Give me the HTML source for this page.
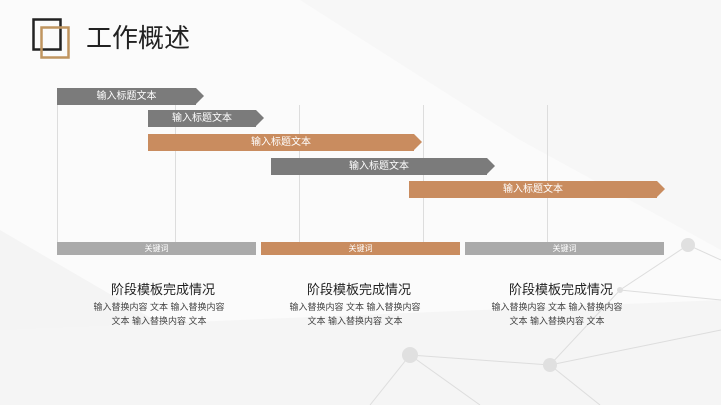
<!DOCTYPE html>
<html><head><meta charset="utf-8"><style>
body{margin:0;width:721px;height:405px;overflow:hidden;background:#fbfbfb;font-family:"Liberation Sans","Noto Sans CJK SC",sans-serif;position:relative}
.a{position:absolute}
.bar{position:absolute;height:17px;color:#fff;font-size:10px;line-height:17px;text-align:center}
.g{background:#7b7b7b}.o{background:#c98c5f}
.tip{position:absolute;width:0;height:0;border-top:8.5px solid transparent;border-bottom:8.5px solid transparent}
.vl{position:absolute;width:1px;background:#ddd;top:105px;height:137px}
.kw{position:absolute;top:242px;height:13px;color:#fff;font-size:8px;line-height:13px;text-align:center}
.h{position:absolute;top:279px;width:200px;text-align:center;font-size:13px;color:#222}
.p{position:absolute;top:300px;width:200px;text-align:center;font-size:9px;color:#444;line-height:14px}
</style></head><body>
<svg class="a" style="left:0;top:0" width="721" height="405">
<polygon points="0,230 300,405 0,405" fill="#f4f4f4"/>
<polygon points="300,0 721,0 721,250 520,140" fill="#f7f7f7"/>
<polygon points="0,330 721,300 721,405 0,405" fill="#f5f5f5"/>
<g stroke="#ddd" stroke-width="1" fill="none">
<polyline points="410,355 550,365 620,290 688,245 721,260"/>
<polyline points="410,355 480,405"/><polyline points="550,365 600,405"/>
<polyline points="550,365 721,330"/><polyline points="620,290 721,300"/>
<polyline points="370,405 410,355"/>
</g>
<g fill="#e0e0e0"><circle cx="410" cy="355" r="8"/><circle cx="550" cy="365" r="7"/><circle cx="688" cy="245" r="7"/><circle cx="620" cy="290" r="3"/></g>
<rect x="33.5" y="19.5" width="27" height="30" fill="none" stroke="#222" stroke-width="2.5"/>
<rect x="41.5" y="27.5" width="27" height="30" fill="none" stroke="#c0955f" stroke-width="2.5"/>
</svg>
<div class="a" style="left:86px;top:21px;font-size:26px;color:#222;line-height:34px">工作概述</div>
<div class="vl" style="left:57px"></div><div class="vl" style="left:175px"></div><div class="vl" style="left:299px"></div><div class="vl" style="left:423px"></div><div class="vl" style="left:547px"></div>
<div class="bar g" style="left:57px;top:88px;width:139px">输入标题文本</div><div class="tip" style="left:196px;top:88px;border-left:8px solid #7b7b7b"></div>
<div class="bar g" style="left:148px;top:110px;width:108px">输入标题文本</div><div class="tip" style="left:256px;top:110px;border-left:8px solid #7b7b7b"></div>
<div class="bar o" style="left:148px;top:134px;width:266px">输入标题文本</div><div class="tip" style="left:414px;top:134px;border-left:8px solid #c98c5f"></div>
<div class="bar g" style="left:271px;top:158px;width:216px">输入标题文本</div><div class="tip" style="left:487px;top:158px;border-left:8px solid #7b7b7b"></div>
<div class="bar o" style="left:409px;top:181px;width:248px">输入标题文本</div><div class="tip" style="left:657px;top:181px;border-left:8px solid #c98c5f"></div>
<div class="kw" style="left:57px;width:199px;background:#aaa">关键词</div>
<div class="kw" style="left:261px;width:199px;background:#c98c5f">关键词</div>
<div class="kw" style="left:465px;width:199px;background:#aaa">关键词</div>
<div class="h" style="left:63px">阶段模板完成情况</div><div class="p" style="left:59px">输入替换内容 文本 输入替换内容<br>文本 输入替换内容 文本</div>
<div class="h" style="left:259px">阶段模板完成情况</div><div class="p" style="left:255px">输入替换内容 文本 输入替换内容<br>文本 输入替换内容 文本</div>
<div class="h" style="left:461px">阶段模板完成情况</div><div class="p" style="left:457px">输入替换内容 文本 输入替换内容<br>文本 输入替换内容 文本</div>
</body></html>
